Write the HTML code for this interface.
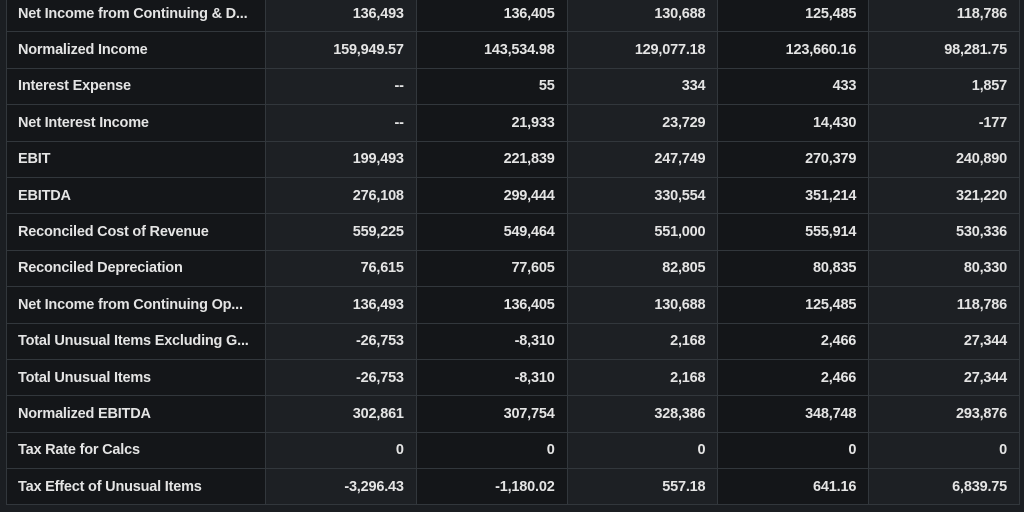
<!DOCTYPE html><html><head><style>
body{margin:0;width:1024px;height:512px;overflow:hidden;background:#1b1e22;font-family:"Liberation Sans",sans-serif;}
table{position:absolute;left:6px;top:-5px;border-collapse:collapse;table-layout:fixed;width:1014px;}
td{height:35.4px;border:1px solid #32373c;color:#e4e4e4;font-size:14.5px;font-weight:bold;padding:0 12px 0 11px;text-align:right;white-space:nowrap;overflow:hidden;letter-spacing:-0.2px}
td:nth-child(1){text-align:left;width:235px;background:#141619}
td:nth-child(2),td:nth-child(4),td:nth-child(6){background:#1d2024}
td:nth-child(3),td:nth-child(5){background:#141619}
</style></head><body><table>
<tr><td>Net Income from Continuing &amp; D...</td><td>136,493</td><td>136,405</td><td>130,688</td><td>125,485</td><td>118,786</td></tr>
<tr><td>Normalized Income</td><td>159,949.57</td><td>143,534.98</td><td>129,077.18</td><td>123,660.16</td><td>98,281.75</td></tr>
<tr><td>Interest Expense</td><td>--</td><td>55</td><td>334</td><td>433</td><td>1,857</td></tr>
<tr><td>Net Interest Income</td><td>--</td><td>21,933</td><td>23,729</td><td>14,430</td><td>-177</td></tr>
<tr><td>EBIT</td><td>199,493</td><td>221,839</td><td>247,749</td><td>270,379</td><td>240,890</td></tr>
<tr><td>EBITDA</td><td>276,108</td><td>299,444</td><td>330,554</td><td>351,214</td><td>321,220</td></tr>
<tr><td>Reconciled Cost of Revenue</td><td>559,225</td><td>549,464</td><td>551,000</td><td>555,914</td><td>530,336</td></tr>
<tr><td>Reconciled Depreciation</td><td>76,615</td><td>77,605</td><td>82,805</td><td>80,835</td><td>80,330</td></tr>
<tr><td>Net Income from Continuing Op...</td><td>136,493</td><td>136,405</td><td>130,688</td><td>125,485</td><td>118,786</td></tr>
<tr><td>Total Unusual Items Excluding G...</td><td>-26,753</td><td>-8,310</td><td>2,168</td><td>2,466</td><td>27,344</td></tr>
<tr><td>Total Unusual Items</td><td>-26,753</td><td>-8,310</td><td>2,168</td><td>2,466</td><td>27,344</td></tr>
<tr><td>Normalized EBITDA</td><td>302,861</td><td>307,754</td><td>328,386</td><td>348,748</td><td>293,876</td></tr>
<tr><td>Tax Rate for Calcs</td><td>0</td><td>0</td><td>0</td><td>0</td><td>0</td></tr>
<tr><td>Tax Effect of Unusual Items</td><td>-3,296.43</td><td>-1,180.02</td><td>557.18</td><td>641.16</td><td>6,839.75</td></tr>
</table></body></html>
